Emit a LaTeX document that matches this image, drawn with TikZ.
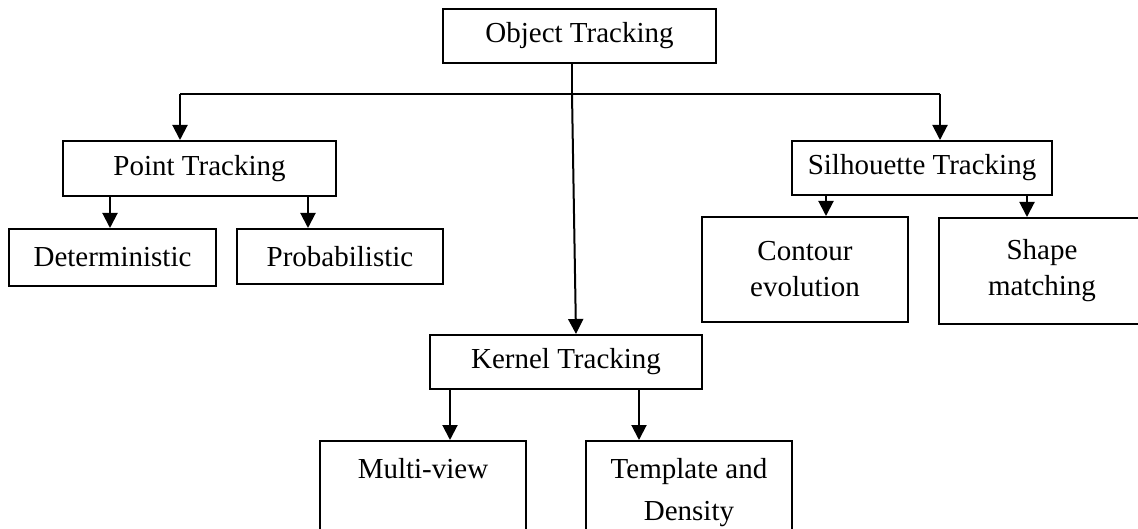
\documentclass[tikz,border=0pt]{standalone}
\usepackage{fontspec}
\setmainfont{Liberation Serif}
\usetikzlibrary{arrows.meta}

\tikzset{
  box/.style={draw, line width=2pt, inner sep=0pt, align=center,
    font=\fontsize{29}{36}\selectfont},
  arr/.style={line width=2pt, -{Triangle[length=15pt,width=15pt]}},
  link/.style={line width=2pt},
}

\begin{document}
\begin{tikzpicture}[x=1pt, y=-1pt]
  \useasboundingbox (0,0) rectangle (1138,529);
  \clip (0,0) rectangle (1138,529);

  % root
  \node[box, minimum width=273pt, minimum height=54pt] (OT) at (579.5,36) {Object Tracking};

  % first level
  \node[box, minimum width=273pt, minimum height=55pt] (PT) at (199.5,168.5) {Point Tracking};
  \node[box, minimum width=260pt, minimum height=54pt] (ST) at (922,168) {Silhouette Tracking};
  \node[box, minimum width=272pt, minimum height=54pt] (KT) at (566,362) {Kernel Tracking};

  % point tracking children
  \node[box, minimum width=207pt, minimum height=57pt] (Det) at (112.5,257.5) {Deterministic};
  \node[box, minimum width=206pt, minimum height=55pt] (Prob) at (340,256.5) {Probabilistic};

  % silhouette tracking children
  \node[box, minimum width=206pt, minimum height=105pt] (CE) at (805,269.5) {Contour\\evolution};
  \node[box, minimum width=206pt, minimum height=106pt] (SM) at (1042,271) {Shape\\matching};

  % kernel tracking children
  \node[box, anchor=north, minimum width=206pt, minimum height=104pt] (MV) at (423,440) {Multi-view\\[6pt]\phantom{Density}};
  \node[box, anchor=north, minimum width=206pt, minimum height=104pt] (TD) at (689,440) {Template and\\[6pt]Density};

  % branch points
  \coordinate (j)  at (572,94);
  \coordinate (cL) at (180,94);
  \coordinate (cR) at (940,94);
  \coordinate (k)  at (576,0);
  \coordinate (p1) at (110,0);
  \coordinate (p2) at (308,0);
  \coordinate (s1) at (826,0);
  \coordinate (s2) at (1027,0);
  \coordinate (k1) at (450,0);
  \coordinate (k2) at (639,0);

  % root to first level
  \draw[link] (OT.south -| j) -- (j);
  \draw[link] (cL) -- (cR);
  \draw[arr] (cL) -- (cL |- PT.north);
  \draw[arr] (cR) -- (cR |- ST.north);
  \draw[arr] (j) -- (KT.north -| k);

  % first level to leaves
  \draw[arr] (PT.south -| p1) -- (Det.north -| p1);
  \draw[arr] (PT.south -| p2) -- (Prob.north -| p2);
  \draw[arr] (ST.south -| s1) -- (CE.north -| s1);
  \draw[arr] (ST.south -| s2) -- (SM.north -| s2);
  \draw[arr] (KT.south -| k1) -- (MV.north -| k1);
  \draw[arr] (KT.south -| k2) -- (TD.north -| k2);
\end{tikzpicture}
\end{document}
